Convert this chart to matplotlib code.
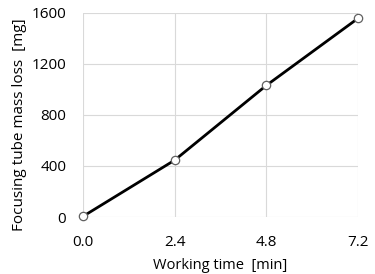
import matplotlib
matplotlib.use("Agg")
import matplotlib.pyplot as plt

# data
time_min = [0.0, 2.4, 4.8, 7.2]
mass_loss = [5, 445, 1030, 1555]
x_ticks = [0.0, 2.4, 4.8, 7.2]
y_ticks = [0, 400, 800, 1200, 1600]

plt.rcParams['font.family'] = ['Open Sans', 'DejaVu Sans']

fig = plt.figure(figsize=(3.75, 2.74), dpi=100)
ax = fig.add_axes([0.2213, 0.208, 0.7334, 0.746])

ax.plot(time_min, mass_loss, color='black', lw=2, zorder=3, clip_on=False,
        marker='o', ms=6, mfc='white', mec='#606060', mew=0.9)

ax.set_xlim(0, 7.2)
ax.set_ylim(0, 1600)
ax.set_xticks(x_ticks)
ax.set_xticklabels([f"{v:.1f}" for v in x_ticks])
ax.set_yticks(y_ticks)
ax.grid(True, color='#d9d9d9', lw=0.8)
ax.set_axisbelow(True)
for s in ax.spines.values():
    s.set_visible(False)
ax.tick_params(length=0, labelsize=11, colors='black')
ax.tick_params(axis='x', pad=13)
ax.tick_params(axis='y', pad=12)

ax.set_xlabel('Working time  [min]', fontsize=10.5, labelpad=6)
ax.set_ylabel('Focusing tube mass loss  [mg]', fontsize=11, labelpad=6)
ax.yaxis.set_label_coords(-0.205, 0.45)

fig.savefig('out.png', dpi=100)
